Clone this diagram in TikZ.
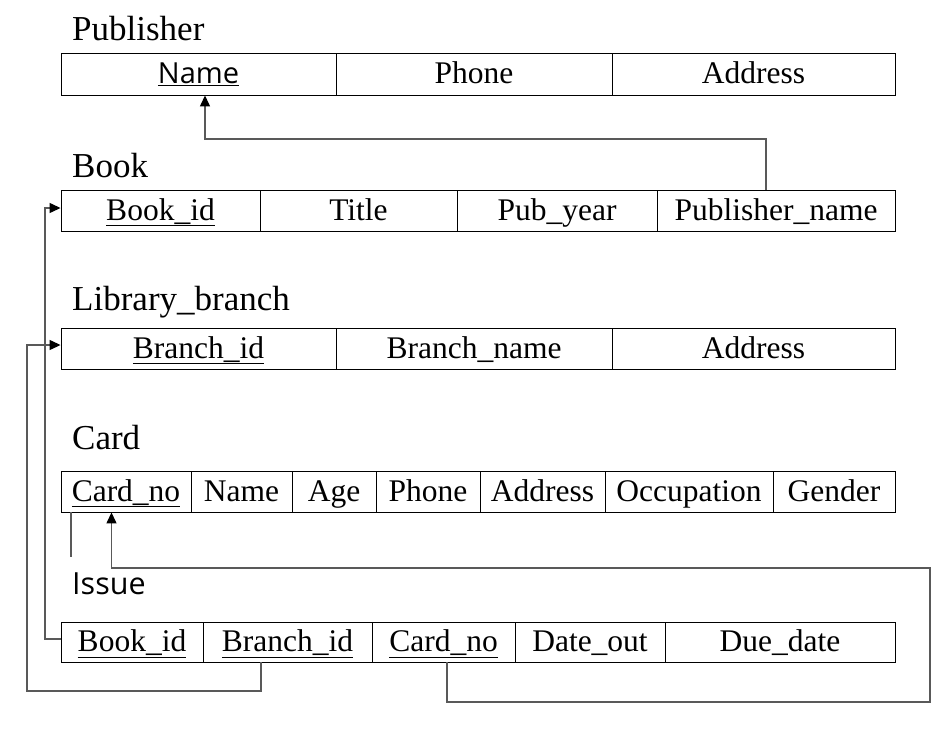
\documentclass[tikz,border=0pt]{standalone}
\usepackage{fontspec}
\setmainfont{Liberation Serif}
\newfontfamily\uisans{Open Sans}
\usetikzlibrary{arrows.meta}
\tikzset{
  cell/.style={draw=black, line width=0.9pt, inner sep=0pt, minimum height=41pt,
    text height=25pt, text depth=6pt,
    font=\fontsize{31.5}{36}\selectfont},
  ttl/.style={anchor=base west, inner sep=0pt, font=\fontsize{35}{40}\selectfont},
  conn/.style={draw=black!65, line width=1.3pt},
  arr/.style={conn, -{Triangle[length=11pt,width=10pt,color=black]}},
}
\begin{document}
\begin{tikzpicture}[x=1pt,y=-1pt]
\useasboundingbox (0,0) rectangle (947,736);
\fill[white] (0,0) rectangle (947,736);

% Publisher
\node[ttl] (t-pub) at (72,40) {Publisher};
\node[cell, minimum width=275pt, minimum height=42pt] (pub-name) at (198.5,74) {\uisans\fontsize{29}{34}\selectfont\underline{Name}};
\node[cell, minimum width=276pt, minimum height=42pt] (pub-phone) at (474,74) {Phone};
\node[cell, minimum width=283pt, minimum height=42pt] (pub-addr) at (753.5,74) {Address};

% Book
\node[ttl] (t-book) at (72,177) {Book};
\node[cell, minimum width=199pt] (bk-bookid) at (160.5,210.5) {\underline{Book\_id}};
\node[cell, minimum width=197pt] (bk-title) at (358.5,210.5) {Title};
\node[cell, minimum width=200pt] (bk-year) at (557,210.5) {Pub\_year};
\node[cell, minimum width=238pt] (bk-pubname) at (776,210.5) {Publisher\_name};

% Library_branch
\node[ttl] (t-lb) at (72,310) {Library\_branch};
\node[cell, minimum width=275pt] (lb-branchid) at (198.5,348.5) {\underline{Branch\_id}};
\node[cell, minimum width=276pt] (lb-name) at (474,348.5) {Branch\_name};
\node[cell, minimum width=283pt] (lb-addr) at (753.5,348.5) {Address};

% Card
\node[ttl] (t-card) at (72,449) {Card};
\node[cell, minimum width=130pt] (cd-cardno) at (126,491.5) {\underline{Card\_no}};
\node[cell, minimum width=101pt] (cd-name) at (241.5,491.5) {Name};
\node[cell, minimum width=84pt] (cd-age) at (334,491.5) {Age};
\node[cell, minimum width=104pt] (cd-phone) at (428,491.5) {Phone};
\node[cell, minimum width=125pt] (cd-addr) at (542.5,491.5) {Address};
\node[cell, minimum width=168pt] (cd-occ) at (689,491.5) {Occupation};
\node[cell, minimum width=122pt] (cd-gender) at (834,491.5) {Gender};

% Issue
\node[ttl, font=\uisans\fontsize{30.5}{36}\selectfont] (t-issue) at (72,594) {Issue};
\node[cell, minimum width=142pt, minimum height=40pt] (is-bookid) at (132,642) {\underline{Book\_id}};
\node[cell, minimum width=169pt, minimum height=40pt] (is-branchid) at (287.5,642) {\underline{Branch\_id}};
\node[cell, minimum width=143pt, minimum height=40pt] (is-cardno) at (443.5,642) {\underline{Card\_no}};
\node[cell, minimum width=150pt, minimum height=40pt] (is-dateout) at (590,642) {Date\_out};
\node[cell, minimum width=230pt, minimum height=40pt] (is-duedate) at (780,642) {Due\_date};

% connectors
\coordinate (j1) at (766,139);
\draw[arr] ([xshift=-10pt]bk-pubname.north) |- (j1) -| ([xshift=6.5pt]pub-name.south);

\coordinate (j2) at (45,639);
\draw[arr] ([yshift=3pt]is-bookid.west) -- (j2) |- ([yshift=2.5pt]bk-bookid.west);

\coordinate (j3) at (27,691);
\draw[arr] ([xshift=-26.5pt]is-branchid.south) |- (j3) |- ([yshift=3.5pt]lb-branchid.west);

\coordinate (j4a) at (930,702);
\coordinate (j4b) at (930,568);
\draw[arr] ([xshift=3.5pt]is-cardno.south) |- (j4a) -- (j4b) -| ([xshift=-14.5pt]cd-cardno.south);

\coordinate (j5) at (71,557);
\draw[conn] ([xshift=-55pt]cd-cardno.south) -- (j5);
\end{tikzpicture}
\end{document}
